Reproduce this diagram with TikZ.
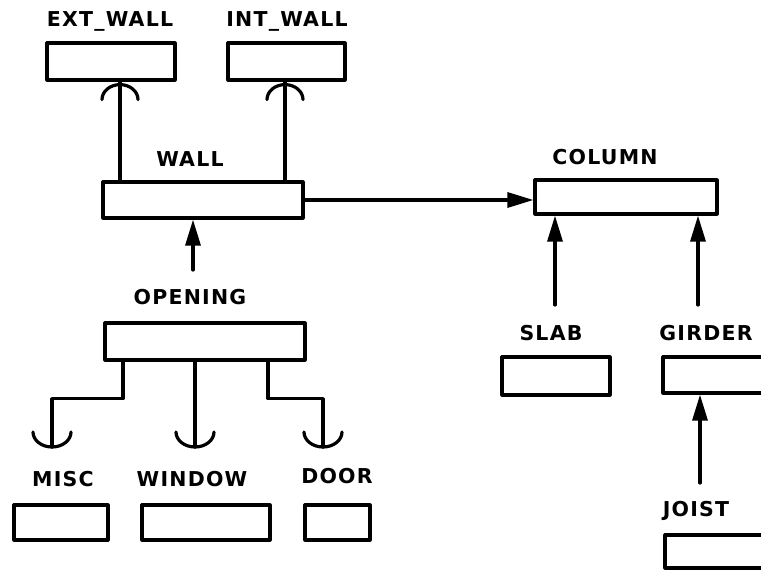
\documentclass[tikz,border=0pt]{standalone}
\usepackage{fontspec}
\newfontfamily\lblfont{DejaVu Sans}[LetterSpace=6]
\usetikzlibrary{arrows.meta}
\begin{document}
\begin{tikzpicture}[x=1pt,y=-1pt,
  box/.style={draw,line width=3.2pt,inner sep=0pt,line join=round},
  lbl/.style={font=\lblfont\bfseries\fontsize{20.5}{22}\selectfont,inner sep=0pt},
  link/.style={line width=3.2pt,line cap=round,line join=round},
  arr/.style={link,-{Triangle[length=26pt,width=15pt]}}]
\useasboundingbox (0,0) rectangle (761,572);
\clip (0,0) rectangle (761,572);
% boxes
\node[box,minimum width=128pt,minimum height=37pt] (ext) at (111,61.5) {};
\node[box,minimum width=117pt,minimum height=37pt] (int) at (286.5,61.5) {};
\node[box,minimum width=200pt,minimum height=36pt] (wall) at (203,200) {};
\node[box,minimum width=182pt,minimum height=34pt] (column) at (626,197) {};
\node[box,minimum width=200pt,minimum height=37pt] (opening) at (205,341.5) {};
\node[box,minimum width=94pt,minimum height=35pt] (misc) at (61,522.5) {};
\node[box,minimum width=128pt,minimum height=35pt] (window) at (206,522.5) {};
\node[box,minimum width=65pt,minimum height=35pt] (door) at (337.5,522.5) {};
\node[box,minimum width=108pt,minimum height=38pt] (slab) at (556,376) {};
\node[box,minimum width=120pt,minimum height=36pt] (girder) at (723,375) {};
\node[box,minimum width=120pt,minimum height=33pt] (joist) at (725,551.5) {};
% labels
\node[lbl] (extl) at (110,21) {EXT\_WALL};
\node[lbl] (intl) at (287,21) {INT\_WALL};
\node[lbl] (walll) at (190,159) {WALL};
\node[lbl] (columnl) at (605,157) {COLUMN};
\node[lbl] (openingl) at (190,297) {OPENING};
\node[lbl] (slabl) at (551,333) {SLAB};
\node[lbl] (girderl) at (706,333) {GIRDER};
\node[lbl] (joistl) at (696,511) {JOIST};
\node[lbl] (miscl) at (63,479) {MISC};
\node[lbl] (windowl) at (192,479) {WINDOW};
\node[lbl] (doorl) at (337,476) {DOOR};
% wall -> ext / int (arc ends)
\coordinate (e1) at ([xshift=9pt]ext.south);
\coordinate (i1) at ([xshift=-1.5pt]int.south);
\draw[link] (wall.north -| e1) -- (e1);
\draw[link] (wall.north -| i1) -- (i1);
\draw[link] ([shift={(18pt,-18pt)}]e1) arc[start angle=0,end angle=180,x radius=18pt,y radius=15pt];
\draw[link] ([shift={(18pt,-18pt)}]i1) arc[start angle=0,end angle=180,x radius=18pt,y radius=15pt];
% wall -> column
\draw[arr] (wall.east) -- (wall.east -| column.west);
% opening -> wall
\coordinate (o1) at (193,270);
\draw[arr] (o1) -- (o1 |- wall.south);
% slab, girder -> column
\coordinate (s1) at (555,305);
\draw[arr] (s1) -- (s1 |- column.south);
\coordinate (g1) at (698,305);
\draw[arr] (g1) -- (g1 |- column.south);
% joist -> girder
\coordinate (j1) at (700,483);
\draw[arr] (j1) -- (j1 |- girder.south);
% opening -> misc, window, door
\coordinate (m1) at (52,447);
\coordinate (w1) at (195,447);
\coordinate (d1) at (323,447);
\draw[link] ([xshift=-82pt]opening.south) -- ++(0,37) -| (m1);
\draw[link] (opening.south -| w1) -- (w1);
\draw[link] ([xshift=63pt]opening.south) -- ++(0,37) -| (d1);
\foreach \c in {m1,w1,d1}
  \draw[link] ([shift={(-19pt,15pt)}]\c) arc[start angle=180,end angle=360,x radius=19pt,y radius=15pt];
\end{tikzpicture}
\end{document}
